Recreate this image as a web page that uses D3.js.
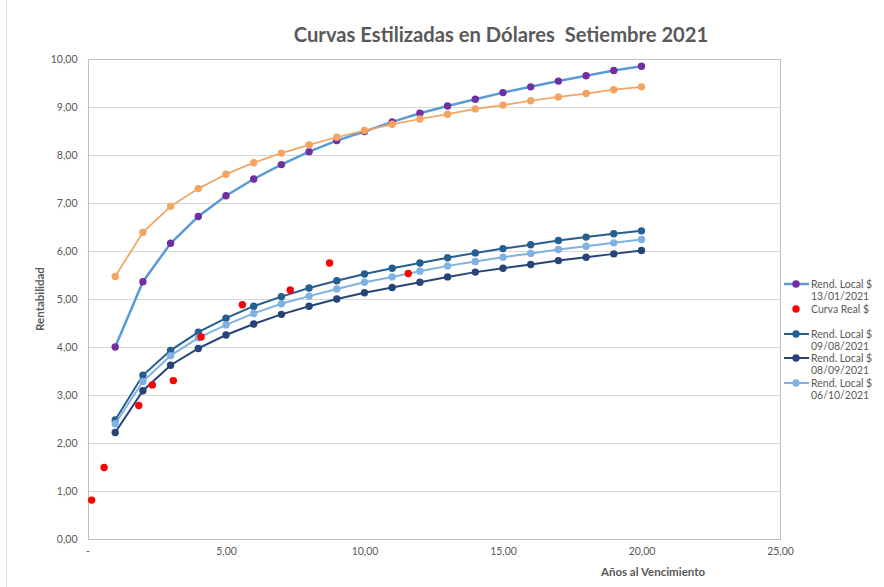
<!DOCTYPE html>
<html>
<head>
<meta charset="utf-8">
<script src="https://cdn.jsdelivr.net/npm/d3@7"></script>
<style>
	body { margin: 0; background: #fff; }
	text { font-family: Lato, "Open Sans", sans-serif; fill: #595959; }
</style>
</head>
<body>
<div id="chart"></div>
<script>

// años al vencimiento de las curvas estilizadas
let plazos = [1, 2, 3, 4, 5, 6, 7, 8, 9, 10, 11, 12, 13, 14, 15, 16, 17, 18, 19, 20];

let rend130121 = [4.00, 5.36, 6.16, 6.72, 7.15, 7.50, 7.80, 8.07, 8.30, 8.49, 8.69, 8.87, 9.02, 9.16, 9.30, 9.42, 9.54, 9.65, 9.76, 9.85];
let rendNaranja = [5.47, 6.39, 6.93, 7.30, 7.60, 7.84, 8.04, 8.21, 8.37, 8.51, 8.64, 8.75, 8.85, 8.96, 9.04, 9.13, 9.21, 9.28, 9.36, 9.42];
let rend090821 = [2.48, 3.41, 3.93, 4.31, 4.60, 4.85, 5.05, 5.23, 5.38, 5.52, 5.64, 5.75, 5.86, 5.96, 6.05, 6.13, 6.22, 6.29, 6.36, 6.42];
let rend080921 = [2.22, 3.09, 3.62, 3.97, 4.25, 4.48, 4.68, 4.85, 5.00, 5.13, 5.24, 5.35, 5.46, 5.56, 5.64, 5.72, 5.80, 5.87, 5.94, 6.01];
let rend061021 = [2.40, 3.28, 3.82, 4.19, 4.46, 4.70, 4.90, 5.06, 5.21, 5.35, 5.46, 5.58, 5.69, 5.78, 5.87, 5.95, 6.03, 6.10, 6.17, 6.24];

// curva real (puntos sueltos)
let realX = [0.15, 0.60, 1.85, 2.34, 3.10, 4.10, 5.59, 7.32, 8.74, 11.58];
let realY = [0.81, 1.49, 2.78, 3.21, 3.30, 4.21, 4.88, 5.19, 5.75, 5.53];

let xTicks = [0, 5, 10, 15, 20, 25];
let yTicks = [0, 1, 2, 3, 4, 5, 6, 7, 8, 9, 10];

let width = 884;
let height = 587;
let margin = {left: 87.5, right: 104, top: 59, bottom: 48};

let svg = d3.select("#chart")
	.append("svg")
	.attr("width", width)
	.attr("height", height);

// borde exterior del gráfico
svg.append("rect")
	.attr("x", 6.5)
	.attr("y", -5)
	.attr("width", 1000)
	.attr("height", 1000)
	.attr("fill", "none")
	.attr("stroke", "#D9D9D9");

let x = d3.scaleLinear().domain([0, 25]).range([margin.left, width - margin.right]);
let y = d3.scaleLinear().domain([0, 10]).range([height - margin.bottom, margin.top]);

let fmt = d => d == 0 ? "-" : d3.format(".2f")(d).replace(".", ",");
let fmtY = d => d3.format(".2f")(d).replace(".", ",");

// grilla horizontal
svg.append("g")
	.selectAll("line")
	.data(yTicks)
	.enter().append("line")
	.attr("x1", x(0))
	.attr("x2", x(25))
	.attr("y1", d => Math.round(y(d)) + 0.5)
	.attr("y2", d => Math.round(y(d)) + 0.5)
	.attr("stroke", "#D9D9D9");

// marco del área de trazado
svg.append("rect")
	.attr("x", Math.round(x(0)) + 0.5)
	.attr("y", Math.round(y(10)) + 0.5)
	.attr("width", Math.round(x(25)) - Math.round(x(0)))
	.attr("height", Math.round(y(0)) - Math.round(y(10)))
	.attr("fill", "none")
	.attr("stroke", "#BFBFBF");

// ejes
let yAxis = d3.axisLeft(y).tickValues(yTicks).tickFormat(fmtY).tickSize(0).tickPadding(10);
let gy = svg.append("g").attr("transform", `translate(${x(0)},0)`).call(yAxis);
gy.select(".domain").remove();
gy.selectAll("text").style("font-size", "10.5px").style("fill", "#595959").style("font-family", "Lato, sans-serif");

let xAxis = d3.axisBottom(x).tickValues(xTicks).tickFormat(fmt).tickSize(0).tickPadding(9);
let gx = svg.append("g").attr("transform", `translate(0,${y(0)})`).call(xAxis);
gx.select(".domain").remove();
gx.selectAll("text").style("font-size", "10.5px").style("fill", "#595959").style("font-family", "Lato, sans-serif");

// títulos
svg.append("text")
	.attr("x", 501)
	.attr("y", 42)
	.attr("text-anchor", "middle")
	.attr("xml:space", "preserve")
	.style("font-size", "20.2px")
	.style("font-weight", "bold")
	.text("Curvas Estilizadas en Dólares  Setiembre 2021");

svg.append("text")
	.attr("transform", "translate(44,299) rotate(-90)")
	.attr("text-anchor", "middle")
	.style("font-size", "11.5px")
	.style("font-weight", "bold")
	.text("Rentabilidad");

svg.append("text")
	.attr("x", 653)
	.attr("y", 576)
	.attr("text-anchor", "middle")
	.style("font-size", "11.5px")
	.style("font-weight", "bold")
	.text("Años al Vencimiento");

// series
let series = [
	{name: ["Rend. Local $", "13/01/2021"], values: rend130121, line: "#5B9BD5", marker: "#7030A0", lw: 2.5, ly: 284},
	{name: null, values: rendNaranja, line: "#F4A460", marker: "#F4A460", lw: 1.75, ly: null},
	{name: ["Rend. Local $", "09/08/2021"], values: rend090821, line: "#255E91", marker: "#255E91", lw: 2, ly: 334},
	{name: ["Rend. Local $", "08/09/2021"], values: rend080921, line: "#264478", marker: "#264478", lw: 2, ly: 358},
	{name: ["Rend. Local $", "06/10/2021"], values: rend061021, line: "#7FB2E0", marker: "#7FB2E0", lw: 2, ly: 383}
];

let line = d3.line()
	.x(d => x(d[0]))
	.y(d => y(d[1]));

series.forEach(s => {
	let pts = plazos.map((p, i) => [p, s.values[i]]);
	svg.append("path")
		.datum(pts)
		.attr("d", line)
		.attr("fill", "none")
		.attr("stroke", s.line)
		.attr("stroke-width", s.lw);
	svg.append("g")
		.selectAll("circle")
		.data(pts)
		.enter().append("circle")
		.attr("cx", d => x(d[0]))
		.attr("cy", d => y(d[1]))
		.attr("r", 3.7)
		.attr("fill", s.marker);
});

// curva real
svg.append("g")
	.selectAll("circle")
	.data(realX.map((v, i) => [v, realY[i]]))
	.enter().append("circle")
	.attr("cx", d => x(d[0]))
	.attr("cy", d => y(d[1]))
	.attr("r", 3.7)
	.attr("fill", "#FF0000");

// leyenda
let legend = svg.append("g");

series.filter(s => s.name).forEach(s => {
	legend.append("line")
		.attr("x1", 784).attr("x2", 809)
		.attr("y1", s.ly).attr("y2", s.ly)
		.attr("stroke", s.line)
		.attr("stroke-width", s.lw);
	legend.append("circle")
		.attr("cx", 796).attr("cy", s.ly).attr("r", 3.7)
		.attr("fill", s.marker);
	s.name.forEach((t, i) => {
		legend.append("text")
			.attr("x", 811)
			.attr("y", s.ly + 3.5 + i * 12.5)
			.style("font-size", "10.5px")
			.text(t);
	});
});

legend.append("circle")
	.attr("cx", 796).attr("cy", 309).attr("r", 3.7)
	.attr("fill", "#FF0000");
legend.append("text")
	.attr("x", 811).attr("y", 312.5)
	.style("font-size", "10.5px")
	.text("Curva Real $");

</script>
</body>
</html>
